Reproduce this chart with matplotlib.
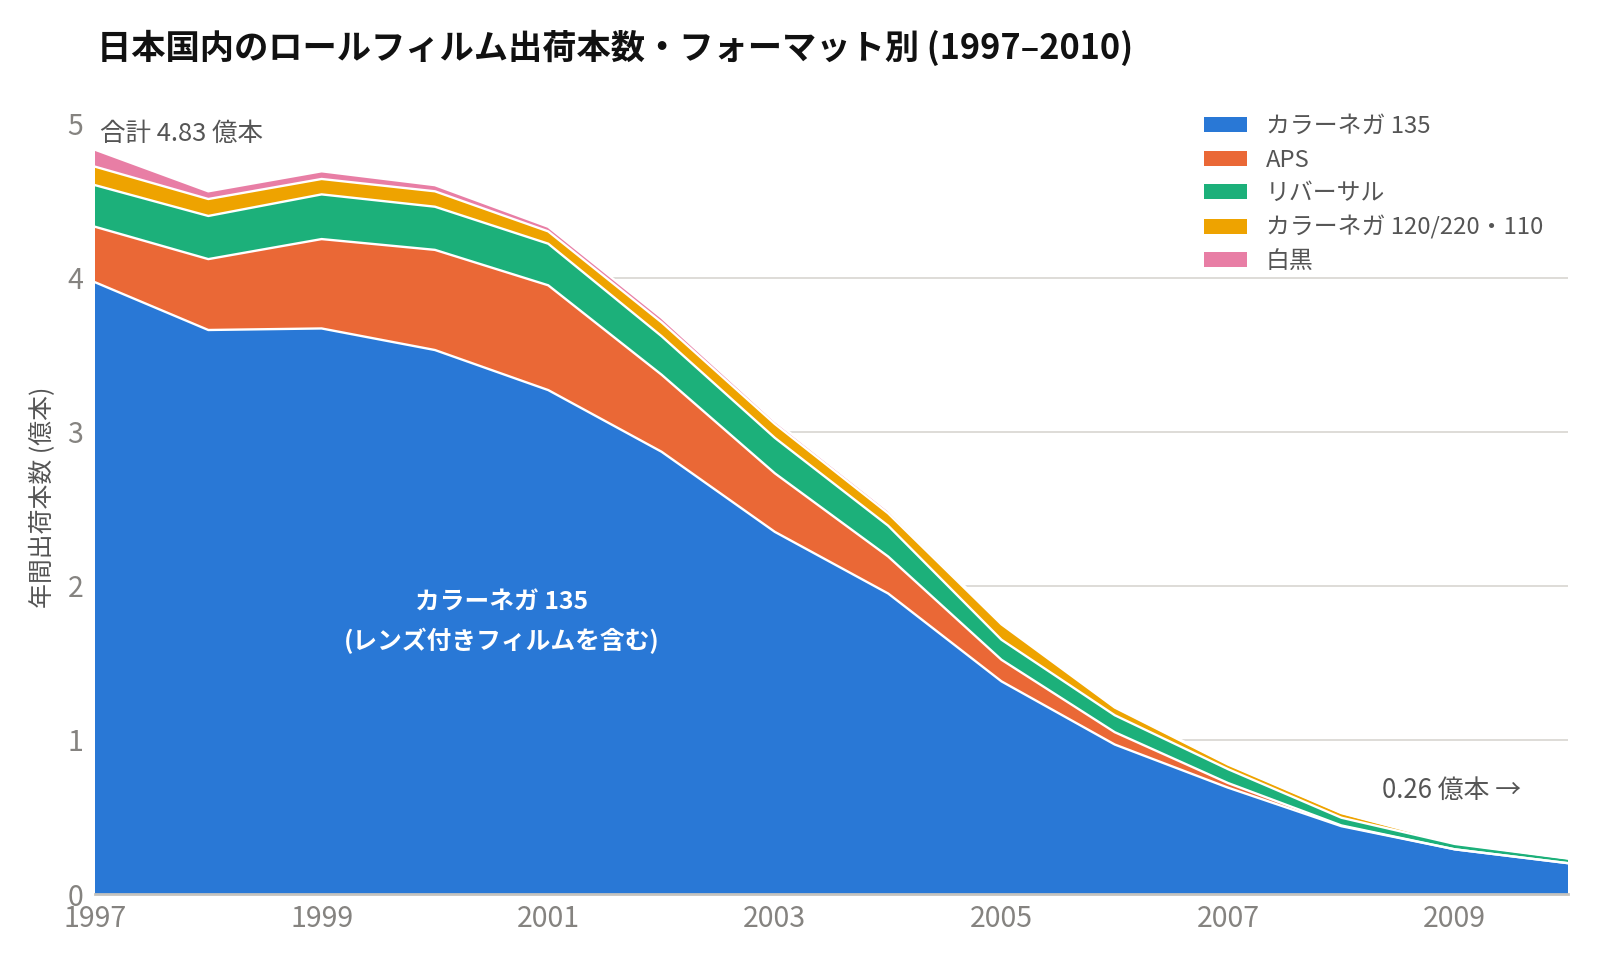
import numpy as np
import matplotlib
matplotlib.use("Agg")
import matplotlib.pyplot as plt
from matplotlib.patches import Patch

plt.rcParams['font.family'] = ['Noto Sans CJK JP', 'DejaVu Sans']

# shipments, 100M rolls
years = list(range(1997, 2011))
neg_135 = [3.97, 3.66, 3.67, 3.53, 3.27, 2.87, 2.35, 1.95, 1.38, 0.97, 0.69, 0.44, 0.29, 0.20]
aps = [0.36, 0.46, 0.58, 0.65, 0.68, 0.50, 0.38, 0.24, 0.14, 0.08, 0.03, 0.005, 0.0, 0.0]
reversal = [0.27, 0.28, 0.29, 0.28, 0.27, 0.25, 0.23, 0.20, 0.13, 0.11, 0.09, 0.05, 0.035, 0.03]
neg_120_110 = [0.12, 0.11, 0.10, 0.10, 0.08, 0.09, 0.09, 0.08, 0.10, 0.05, 0.03, 0.03, 0.005, 0.002]
monochrome = [0.11, 0.05, 0.05, 0.04, 0.03, 0.03, 0.02, 0.02, 0.01, 0.005, 0.005, 0.003, 0.002, 0.001]

labels = ["カラーネガ 135", "APS", "リバーサル", "カラーネガ 120/220・110", "白黒"]
colors = ["#2978D6", "#EA6836", "#1CB07A", "#EEA300", "#E87EA5"]

series = np.array([neg_135, aps, reversal, neg_120_110, monochrome])

fig = plt.figure(figsize=(16, 9.6), dpi=100)
ax = fig.add_axes([95 / 1600, 1 - 894 / 960, (1568 - 95) / 1600, (894 - 123.5) / 960])

ax.stackplot(years, series, colors=colors, linewidth=0, zorder=2)
for top in np.cumsum(series, axis=0):
    ax.plot(years, top, color="white", lw=1.7, zorder=3)

ax.set_xlim(1997, 2010)
ax.set_ylim(0, 5)
ax.set_yticks(range(6))
ax.set_xticks(range(1997, 2010, 2))
ax.grid(axis="y", color="#dedcd7", lw=1.4)
ax.set_axisbelow(True)
for s in ["top", "right", "left"]:
    ax.spines[s].set_visible(False)
ax.spines["bottom"].set_color("#c5c3be")
ax.spines["bottom"].set_linewidth(2)
ax.spines["bottom"].set_zorder(4)
ax.tick_params(axis="both", length=0, labelsize=20.5, labelcolor="#858380")
ax.tick_params(axis="y", pad=8.5)
ax.tick_params(axis="x", pad=7)

handles = [Patch(facecolor=c, edgecolor="none") for c in colors]
ax.legend(handles, labels, loc="upper left", bbox_to_anchor=(0.753, 1.011),
          frameon=False, fontsize=17.2, labelcolor="#555555",
          handlelength=1.8, handleheight=0.6, handletextpad=0.77,
          labelspacing=0.44, borderpad=0, borderaxespad=0)

ax.text(1997.045, 4.93, "合計 4.83 億本", fontsize=18.4, color="#555555", va="center", ha="left")
ax.text(2008.36, 0.67, "0.26 億本 →", fontsize=18.6, color="#555555", va="center", ha="left")
ax.text(2000.59, 1.765, "カラーネガ 135\n(レンズ付きフィルムを含む)", fontsize=17.8,
        fontweight="bold", color="white", ha="center", va="center",
        multialignment="center", linespacing=1.6, zorder=5)

fig.text(97 / 1600, 1 - 48 / 960, "日本国内のロールフィルム出荷本数・フォーマット別 (1997–2010)",
         fontsize=24.7, fontweight="bold", color="#111111", va="center", ha="left")
fig.text(43 / 1600, 1 - 497 / 960, "年間出荷本数 (億本)", rotation=90, fontsize=17.9,
         color="#555555", va="center", ha="center")

fig.savefig("out.png", dpi=100)
